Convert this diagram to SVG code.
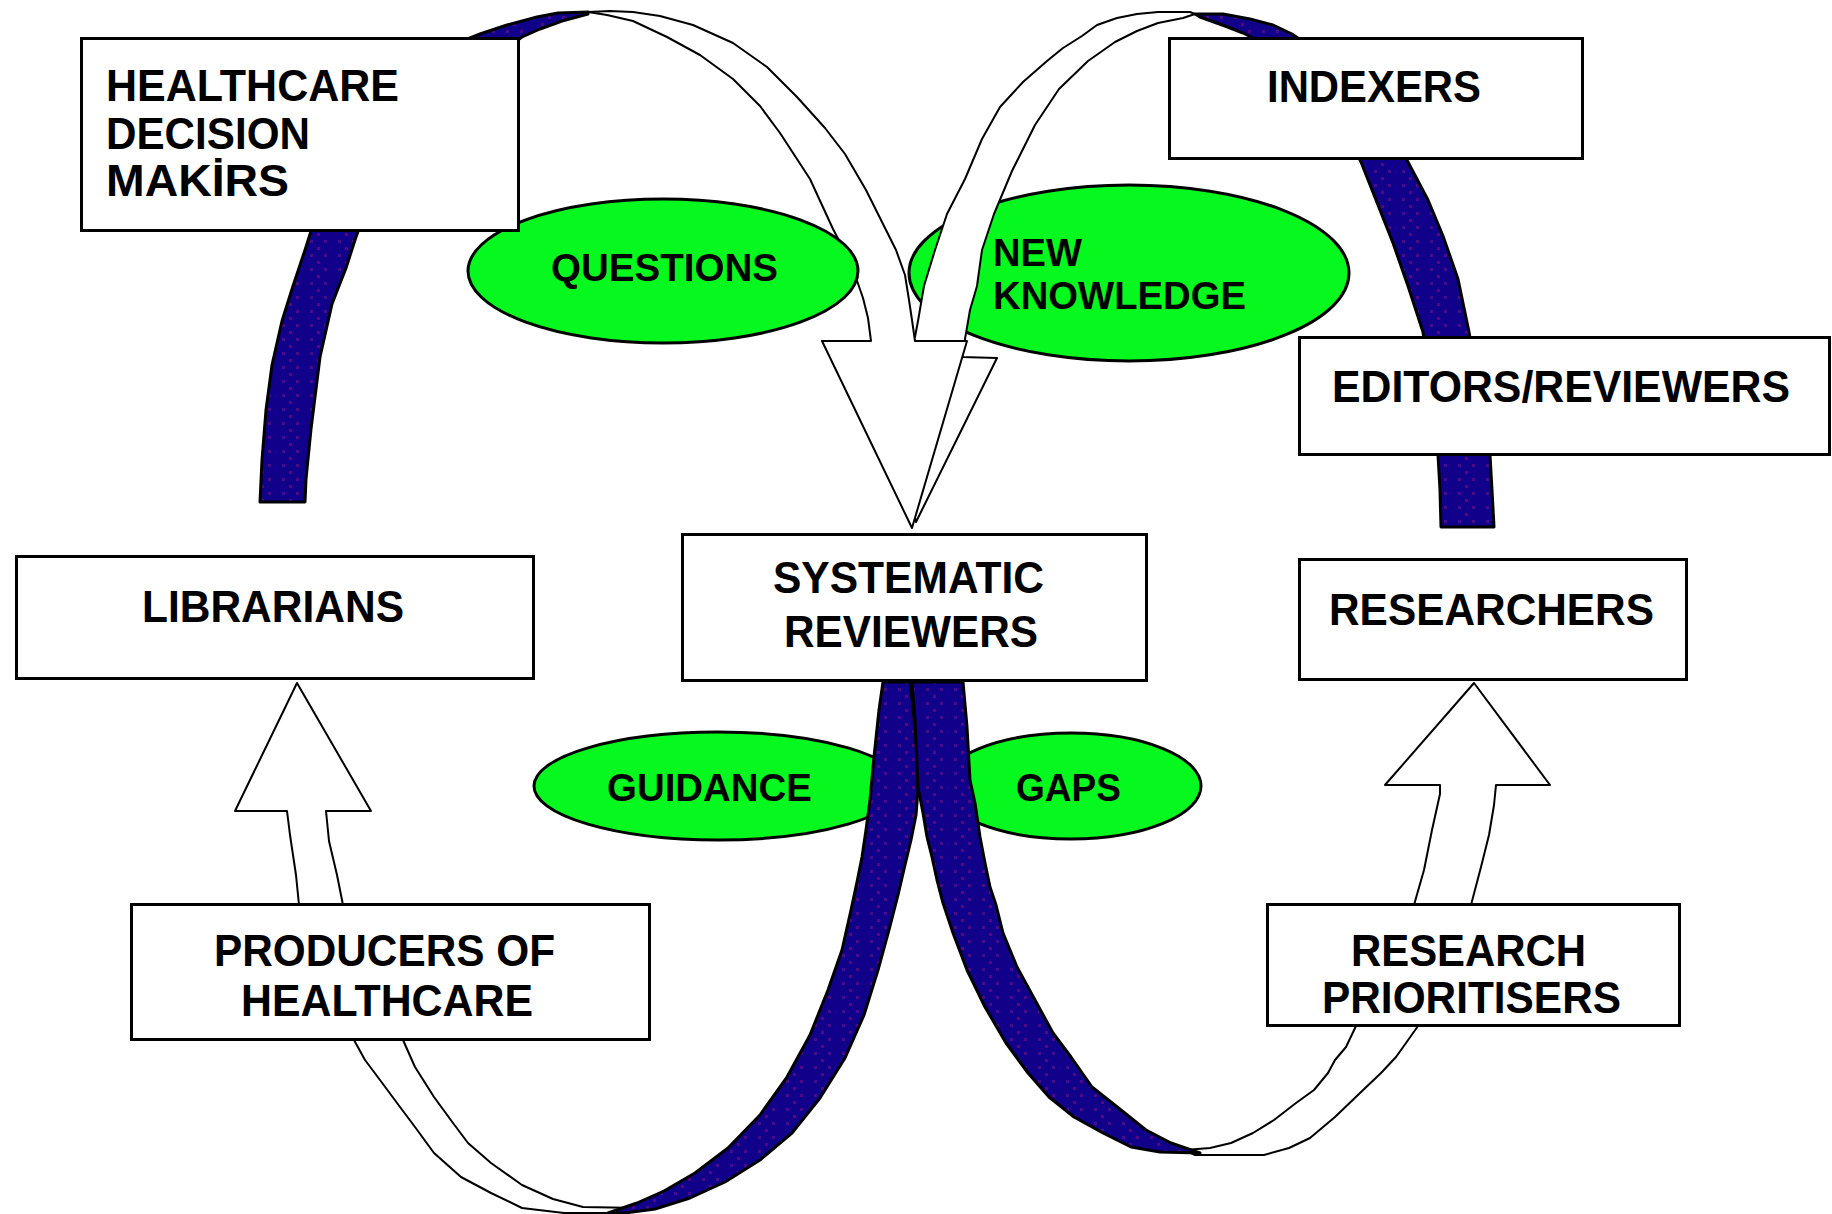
<svg xmlns="http://www.w3.org/2000/svg" width="1832" height="1214" viewBox="0 0 1832 1214">
<style>
.box{fill:#fff;stroke:#000;stroke-width:3}
.ell{fill:#06f91e;stroke:#000;stroke-width:3}
.band{fill:url(#dots);stroke:#000;stroke-width:3;stroke-linejoin:round}
.rib{fill:#fff;stroke:#000;stroke-width:2;stroke-linejoin:round}
.t{font-family:"Liberation Sans",Arial,sans-serif;font-weight:bold;font-size:44px;fill:#000}
.te{font-family:"Liberation Sans",Arial,sans-serif;font-weight:bold;font-size:39px;fill:#000}
</style>
<defs>
<pattern id="dots" width="28" height="14" patternUnits="userSpaceOnUse">
<rect width="28" height="14" fill="#10008a"/>
<rect x="2" y="2" width="3" height="3" fill="#4d0a86"/>
<rect x="16" y="2" width="3" height="3" fill="#4d0a86"/>
<rect x="9" y="9" width="3" height="3" fill="#4d0a86"/>
</pattern>
</defs>
<rect width="1832" height="1214" fill="#fff"/>

<g id="node-new-knowledge"><ellipse class="ell" cx="1129" cy="273" rx="220" ry="88"/>
<text class="te" x="993" y="266" textLength="89" lengthAdjust="spacingAndGlyphs">NEW</text>
<text class="te" x="993" y="309" textLength="253" lengthAdjust="spacingAndGlyphs">KNOWLEDGE</text></g>
<g id="node-guidance"><ellipse class="ell" cx="718" cy="786" rx="184" ry="54"/>
<text class="te" x="607" y="801" textLength="205" lengthAdjust="spacingAndGlyphs">GUIDANCE</text></g>
<g id="node-gaps"><ellipse class="ell" cx="1071" cy="786" rx="130" ry="53"/>
<text class="te" x="1016" y="801" textLength="105" lengthAdjust="spacingAndGlyphs">GAPS</text></g>

<g id="connectors">
<path class="rib" d="M1195,14 L1190,12 L1158,12 L1137,14 L1117,18 L1097,25 L1082,36 L1063,48 L1047,61 L1023,82 L1000,107 L982,139 L965,179 L947,214 L935,250 L924,286 L918,321 L915,337 L875,334 L916,522 L997,358 L962,357 L965,339 L970,310 L977,286 L982,250 L994,214 L1012,171 L1035,125 L1059,89 L1088,61 L1115,42 L1137,31 L1158,23 L1183,18 Z"/>
<path class="rib" d="M588,12 L610,11 L633,12 L660,16 L693,25 L733,43 L767,67 L797,97 L825,128 L845,154 L866,190 L882,222 L896,250 L905,275 L909,300 L912,320 L915,341 L967,341 L912,528 L822,341 L871,341 L868,318 L863,298 L855,275 L845,252 L833,229 L810,179 L780,133 L760,106 L733,79 L700,55 L667,37 L633,21 L607,15 Z"/>
<path class="band" d="M260,502 L262,460 L266,410 L272,365 L282,321 L293,286 L305,250 L312,228 L330,170 L360,115 L400,75 L440,50 L480,34 L507,25 L537,17 L558,13 L588,12 L588,14 L562,21 L540,29 L522,37 L470,75 L420,125 L385,175 L362,220 L355,240 L346,268 L332,304 L320,357 L311,429 L306,479 L305,502 Z"/>
<path class="band" d="M1195,14 L1223,14 L1250,19 L1273,25 L1292,34 L1330,60 L1368,100 L1393,135 L1408,162 L1428,200 L1443,236 L1458,279 L1469,332 L1480,395 L1490,455 L1492,490 L1494,527 L1441,527 L1440,490 L1438,455 L1432,400 L1423,332 L1408,286 L1393,243 L1376,200 L1361,162 L1338,112 L1300,68 L1265,44 L1243,33 L1225,26 L1200,17 Z"/>
<path class="rib" d="M612,1213 L564,1213 L522,1208 L491,1193 L461,1177 L434,1153 L415,1127 L400,1107 L380,1080 L365,1060 L354,1040 L403,1040 L415,1067 L434,1097 L453,1123 L468,1143 L491,1163 L522,1185 L553,1199 L583,1207 L640,1208 Z"/>
<path class="rib" d="M1195,1155 L1264,1155 L1289,1148 L1310,1138 L1335,1117 L1360,1093 L1381,1073 L1396,1057 L1406,1043 L1418,1026 L1356,1026 L1346,1047 L1335,1060 L1328,1073 L1314,1090 L1296,1103 L1274,1120 L1253,1133 L1231,1143 L1210,1148 L1185,1150 Z"/>
<path class="band" d="M883,682 L910,682 L913,707 L917,753 L918,790 L916,815 L911,840 L905,865 L898,895 L889,930 L878,970 L864,1015 L845,1058 L820,1098 L792,1133 L760,1160 L725,1182 L690,1198 L655,1209 L625,1213 L608,1213 L637,1203 L664,1191 L695,1173 L728,1148 L760,1115 L787,1077 L810,1035 L828,990 L842,950 L851,910 L857,882 L862,857 L866,830 L870,800 L874,757 L879,710 Z"/>
<path class="band" d="M912,682 L963,682 L967,727 L970,780 L975,803 L980,837 L985,863 L990,887 L996,905 L1003,933 L1017,967 L1035,1000 L1053,1033 L1071,1057 L1092,1087 L1121,1110 L1146,1130 L1171,1143 L1200,1153 L1160,1152 L1131,1147 L1103,1133 L1074,1117 L1049,1097 L1028,1073 L1006,1043 L985,1007 L967,970 L953,933 L943,903 L937,880 L932,857 L927,837 L923,813 L918,787 L915,720 Z"/>
<path class="rib" d="M299,905 L296,875 L290,835 L287,811 L235,811 L297,683 L371,811 L326,811 L329,841 L337,875 L343,905 Z"/>
<path class="rib" d="M1414,905 L1424,870 L1432,830 L1440,794 L1440,785 L1385,785 L1474,683 L1550,785 L1496,785 L1494,805 L1489,835 L1481,867 L1471,905 Z"/>
</g>

<g id="node-questions"><ellipse class="ell" cx="663" cy="271" rx="195" ry="72"/>
<text class="te" x="551" y="281" textLength="227" lengthAdjust="spacingAndGlyphs">QUESTIONS</text></g>

<g id="node-healthcare-decision-makers"><rect class="box" x="81.5" y="38.5" width="437" height="192"/>
<text class="t" x="106" y="101" textLength="293" lengthAdjust="spacingAndGlyphs">HEALTHCARE</text>
<text class="t" x="106" y="149" textLength="204" lengthAdjust="spacingAndGlyphs">DECISION</text>
<text class="t" x="106" y="196" textLength="183" lengthAdjust="spacingAndGlyphs">MAKİRS</text></g>
<g id="node-indexers"><rect class="box" x="1169.5" y="38.5" width="413" height="120"/>
<text class="t" x="1267" y="102" textLength="214" lengthAdjust="spacingAndGlyphs">INDEXERS</text></g>
<g id="node-editors-reviewers"><rect class="box" x="1299.5" y="337.5" width="530" height="117"/>
<text class="t" x="1332" y="402" textLength="458" lengthAdjust="spacingAndGlyphs">EDITORS/REVIEWERS</text></g>
<g id="node-librarians"><rect class="box" x="16.5" y="556.5" width="517" height="122"/>
<text class="t" x="142" y="622" textLength="262" lengthAdjust="spacingAndGlyphs">LIBRARIANS</text></g>
<g id="node-systematic-reviewers"><rect class="box" x="682.5" y="534.5" width="464" height="146"/>
<text class="t" x="773" y="593" textLength="271" lengthAdjust="spacingAndGlyphs">SYSTEMATIC</text>
<text class="t" x="784" y="647" textLength="254" lengthAdjust="spacingAndGlyphs">REVIEWERS</text></g>
<g id="node-researchers"><rect class="box" x="1299.5" y="559.5" width="387" height="120"/>
<text class="t" x="1329" y="625" textLength="325" lengthAdjust="spacingAndGlyphs">RESEARCHERS</text></g>
<g id="node-producers-of-healthcare"><rect class="box" x="131.5" y="904.5" width="518" height="135"/>
<text class="t" x="214" y="966" textLength="341" lengthAdjust="spacingAndGlyphs">PRODUCERS OF</text>
<text class="t" x="241" y="1016" textLength="292" lengthAdjust="spacingAndGlyphs">HEALTHCARE</text></g>
<g id="node-research-prioritisers"><rect class="box" x="1267.5" y="904.5" width="412" height="121"/>
<text class="t" x="1351" y="966" textLength="235" lengthAdjust="spacingAndGlyphs">RESEARCH</text>
<text class="t" x="1322" y="1013" textLength="299" lengthAdjust="spacingAndGlyphs">PRIORITISERS</text></g>
</svg>
